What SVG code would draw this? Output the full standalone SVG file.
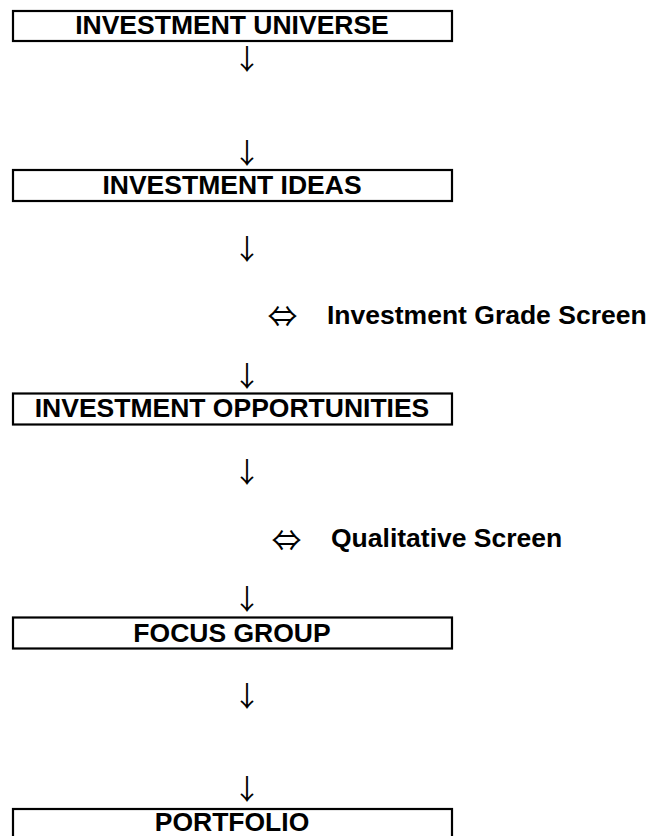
<svg xmlns="http://www.w3.org/2000/svg" width="648" height="836" viewBox="0 0 648 836">
<style>
.box{fill:#fff;stroke:#000;stroke-width:2.2}
.lbl{font-family:"Liberation Sans",Arial,sans-serif;font-weight:bold;font-size:26.5px;fill:#000}
.dbl{font-family:"Noto Sans CJK JP","DejaVu Sans",sans-serif;font-size:30px;fill:#000;text-anchor:middle}
.arr{font-family:"Noto Sans CJK JP","DejaVu Sans",sans-serif;font-size:28px;fill:#000;text-anchor:middle}
</style>
<rect width="648" height="836" fill="#fff"/>
<g id="n1"><rect class="box" x="13" y="11" width="439" height="30"/><text class="lbl" x="232" y="34" text-anchor="middle">INVESTMENT UNIVERSE</text></g>
<g id="n2"><rect class="box" x="13" y="170" width="439" height="31"/><text class="lbl" x="232" y="194" text-anchor="middle">INVESTMENT IDEAS</text></g>
<g id="n3"><rect class="box" x="13" y="393.5" width="439" height="31"/><text class="lbl" x="232" y="417" text-anchor="middle">INVESTMENT OPPORTUNITIES</text></g>
<g id="n4"><rect class="box" x="13" y="617.5" width="439" height="31"/><text class="lbl" x="232" y="642" text-anchor="middle">FOCUS GROUP</text></g>
<g id="n5"><rect class="box" x="13" y="809" width="439" height="31"/><text class="lbl" x="232" y="831" text-anchor="middle">PORTFOLIO</text></g>
<g id="s1"><text class="dbl" x="282.5" y="327">⇔</text><text class="lbl" x="327" y="324">Investment Grade Screen</text></g>
<g id="s2"><text class="dbl" x="286.5" y="551">⇔</text><text class="lbl" x="331" y="547">Qualitative Screen</text></g>
<g id="connectors">
<text class="arr" x="247" y="70">↓</text>
<text class="arr" x="247" y="164">↓</text>
<text class="arr" x="247" y="260">↓</text>
<text class="arr" x="247" y="387">↓</text>
<text class="arr" x="247" y="483">↓</text>
<text class="arr" x="247" y="610">↓</text>
<text class="arr" x="247" y="707">↓</text>
<text class="arr" x="247" y="800">↓</text>
</g>
</svg>
